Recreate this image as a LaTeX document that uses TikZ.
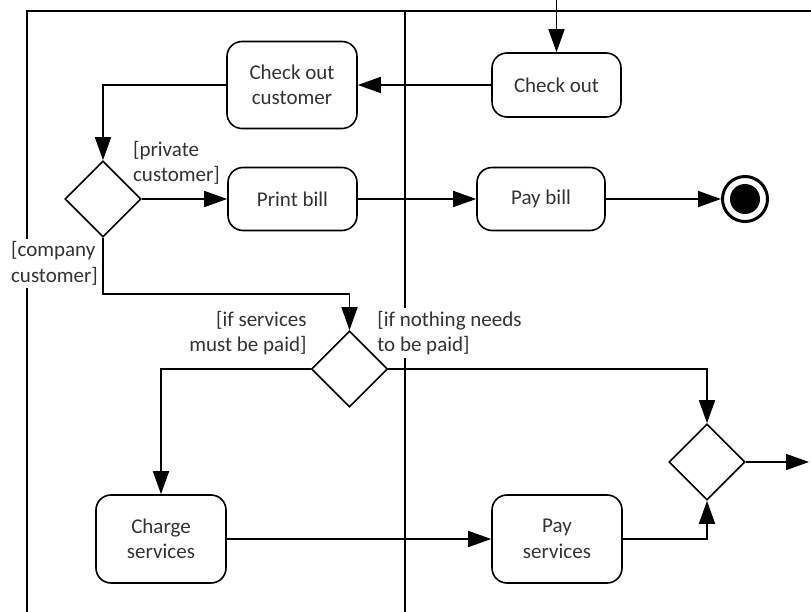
\documentclass[tikz,border=0pt]{standalone}
\usepackage{fontspec}
\setmainfont{Carlito}
\usetikzlibrary{shapes.geometric,arrows.meta}
\begin{document}
\begin{tikzpicture}[x=1pt,y=-1pt,
  every node/.style={font=\fontsize{21}{25.5}\selectfont, text=black!80},
  act/.style={draw, rounded corners=15pt, line width=1.6pt, minimum width=129pt, inner sep=0pt, align=center},
  dec/.style={draw, diamond, line width=1.6pt, minimum width=76pt, minimum height=76pt, inner sep=0pt},
  flow/.style={line width=1.6pt, -{Triangle[length=23pt,width=16pt]}},
  lane/.style={line width=1.5pt},
  guard/.style={fill=white, inner sep=3pt},
]
\useasboundingbox (0,0) rectangle (811,612);
% swimlanes
\draw[lane] (27,612) -- (27,11) -- (811,11);
\draw[lane] (405,11) -- (405,612);
% guard labels
\node[guard, align=left] (gp) at (176.5,163) {[private\\customer]};
\node[guard, align=left] (gc) at (54.5,263.5) {[company\\customer]};
\node[guard, align=right] (gs) at (248,333) {[if services\\must be paid]};
\node[guard, align=left] (gn) at (449.5,333) {[if nothing needs\\to be paid]};
% activities
\node[act, minimum height=87pt, minimum width=130pt] (cc) at (292,85) {Check out\\customer};
\node[act, minimum height=64pt] (co) at (556.5,85) {Check out};
\node[act, minimum height=63pt] (pb) at (292.5,199) {Print bill};
\node[act, minimum height=63pt, minimum width=128pt] (pay) at (541,199) {Pay bill};
\node[act, minimum height=88pt, minimum width=130pt] (cs) at (161,539) {Charge\\services};
\node[act, minimum height=88pt, minimum width=130pt] (ps) at (557,539) {Pay\\services};
% decisions
\node[dec] (d1) at (103,199) {};
\node[dec] (d2) at (349.5,369) {};
\node[dec] (m) at (707,462) {};
% final node
\node[circle, draw, line width=3pt, minimum size=45pt, inner sep=0pt] (fin) at (745,199) {};
\fill (fin.center) circle (15pt);
% free ends
\coordinate (top) at (556.5,0);
\coordinate (out) at (809,462);
% flows
\draw[flow] (top) -- (co.north);
\draw[flow] (co.west) -- (cc.east);
\draw[flow] (cc.west) -| (d1.north);
\draw[flow] (d1.east) -- (pb.west);
\draw[flow] (pb.east) -- (pay.west);
\draw[flow] (pay.east) -- (fin.west);
\draw[flow] (d1.south) -- ++(0,56) -| (d2.north);
\draw[flow] (d2.west) -| (cs.north);
\draw[flow] (d2.east) -| (m.north);
\draw[flow] (cs.east) -- (ps.west);
\draw[flow] (ps.east) -| (m.south);
\draw[flow] (m.east) -- (out);
\end{tikzpicture}
\end{document}
